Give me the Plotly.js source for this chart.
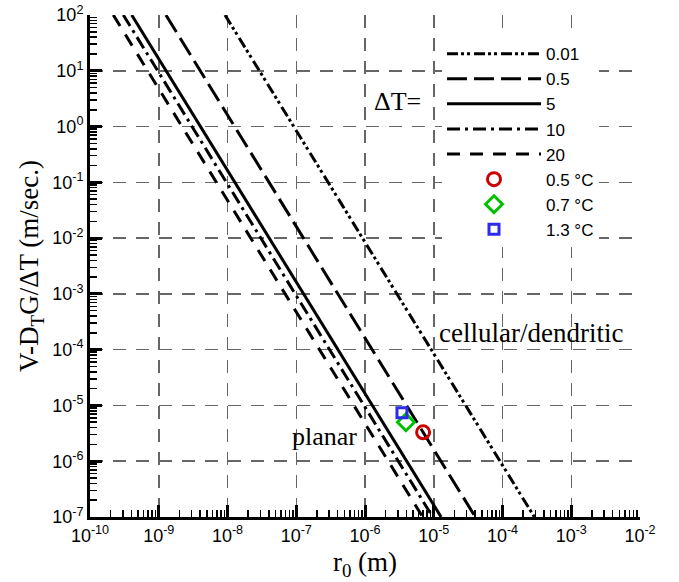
<!DOCTYPE html>
<html><head><meta charset="utf-8">
<script src="https://cdn.plot.ly/plotly-3.0.1.min.js"></script>
<style>body{margin:0;padding:0;background:#fff}#chart{width:679px;height:582px}</style>
</head><body><div id="chart"></div>
<script>
// ---- data ----
const seriesNames = ['0.01', '0.5', '5', '10', '20'];
const lineXTop = [9.2e-9, 1.27e-9, 4.04e-10, 3.05e-10, 2.18e-10];   // r0 at V = 1e2
const lineXBottom = [2.91e-4, 4.03e-5, 1.28e-5, 9.66e-6, 6.9e-6];   // r0 at V = 1e-7
const lineYEnds = [1e2, 1e-7];

const pointNames = ['0.5 °C', '0.7 °C', '1.3 °C'];
const pointX = [7.0e-6, 3.94e-6, 3.45e-6];
const pointY = [3.3e-6, 5.0e-6, 7.4e-6];

const xTickVals = [1e-10, 1e-9, 1e-8, 1e-7, 1e-6, 1e-5, 1e-4, 1e-3, 1e-2];
const xTickText = ['10<sup>-10</sup>', '10<sup>-9</sup>', '10<sup>-8</sup>', '10<sup>-7</sup>', '10<sup>-6</sup>', '10<sup>-5</sup>', '10<sup>-4</sup>', '10<sup>-3</sup>', '10<sup>-2</sup>'];
const yTickVals = [1e-7, 1e-6, 1e-5, 1e-4, 1e-3, 1e-2, 1e-1, 1e0, 1e1, 1e2];
const yTickText = ['10<sup>-7</sup>', '10<sup>-6</sup>', '10<sup>-5</sup>', '10<sup>-4</sup>', '10<sup>-3</sup>', '10<sup>-2</sup>', '10<sup>-1</sup>', '10<sup>0</sup>', '10<sup>1</sup>', '10<sup>2</sup>'];

// ---- styles ----
const lineDash = ['11px,3px,3px,3px,3px,4px', '20px,7px', 'solid', '13px,5px,3px,5px', '13px,10px'];
const pointSymbols = ['circle-open', 'diamond-open', 'square-open'];
const pointColors = ['#cc0000', '#00c000', '#2b2bee'];
const pointSizes = [13, 13, 10];

function minorTicks(lo, hi) {
  const v = [];
  for (let e = lo; e < hi; e++) for (let k = 2; k <= 9; k++) v.push(k * Math.pow(10, e));
  return v;
}

const traces = [];
seriesNames.forEach((n, i) => {
  traces.push({
    type: 'scatter', mode: 'lines', name: n,
    x: [lineXTop[i], lineXBottom[i]], y: lineYEnds,
    line: {color: 'black', width: 3, dash: lineDash[i]},
    hoverinfo: 'skip'
  });
});
pointNames.forEach((n, i) => {
  traces.push({
    type: 'scatter', mode: 'markers', name: n,
    x: [pointX[i]], y: [pointY[i]],
    marker: {symbol: pointSymbols[i], size: pointSizes[i], color: pointColors[i], line: {width: 3, color: pointColors[i]}}
  });
});

const tickFont = {family: 'Liberation Sans, Arial, sans-serif', size: 18, color: 'black'};
const serif = 'Liberation Serif, Times New Roman, serif';

const axisCommon = {
  type: 'log', showline: true, linewidth: 3, linecolor: 'black', mirror: false,
  ticks: 'inside', ticklen: 12, tickwidth: 3, tickcolor: 'black',
  tickmode: 'array', tickfont: tickFont,
  showgrid: true, gridcolor: '#666', gridwidth: 1.5, griddash: '13px,10px',
  zeroline: false, layer: 'above traces'
};

const layout = {
  width: 679, height: 582,
  margin: {l: 90, r: 39, t: 15, b: 65},
  paper_bgcolor: 'white', plot_bgcolor: 'white',
  showlegend: true,
  legend: {
    x: 0.64, y: 0.958, xanchor: 'left', yanchor: 'top',
    bgcolor: 'white', borderwidth: 0, itemwidth: 94,
    font: {family: 'Liberation Sans, Arial, sans-serif', size: 17, color: 'black'},
    tracegroupgap: 0
  },
  xaxis: Object.assign({}, axisCommon, {
    range: [-10, -2], tickvals: xTickVals, ticktext: xTickText,
    minor: {tickmode: 'array', tickvals: minorTicks(-10, -2), ticks: 'inside', ticklen: 7, tickwidth: 1.5, tickcolor: 'black', showgrid: false},
    title: {text: 'r<sub>0</sub> (m)', font: {family: serif, size: 27, color: 'black'}, standoff: 8}
  }),
  yaxis: Object.assign({}, axisCommon, {
    range: [-7, 2], tickvals: yTickVals, ticktext: yTickText,
    minor: {tickmode: 'array', tickvals: minorTicks(-7, 2), ticks: 'inside', ticklen: 7, tickwidth: 1.5, tickcolor: 'black', showgrid: false},
    title: {text: 'V-D<sub>T</sub>G/ΔT (m/sec.)', font: {family: serif, size: 27, color: 'black'}, standoff: 6}
  }),
  annotations: [
    {xref: 'paper', yref: 'paper', x: 0.559, y: 0.8275, text: 'ΔT=', showarrow: false, xanchor: 'center', yanchor: 'middle', font: {family: serif, size: 26, color: 'black'}},
    {xref: 'paper', yref: 'paper', x: 0.4264, y: 0.1605, text: 'planar', showarrow: false, xanchor: 'center', yanchor: 'middle', font: {family: serif, size: 26, color: 'black'}},
    {xref: 'paper', yref: 'paper', x: 0.8027, y: 0.367, text: 'cellular/dendritic', showarrow: false, xanchor: 'center', yanchor: 'middle', font: {family: serif, size: 27, color: 'black'}}
  ]
};

Plotly.newPlot('chart', traces, layout, {displayModeBar: false, staticPlot: true});
</script>
</body></html>
